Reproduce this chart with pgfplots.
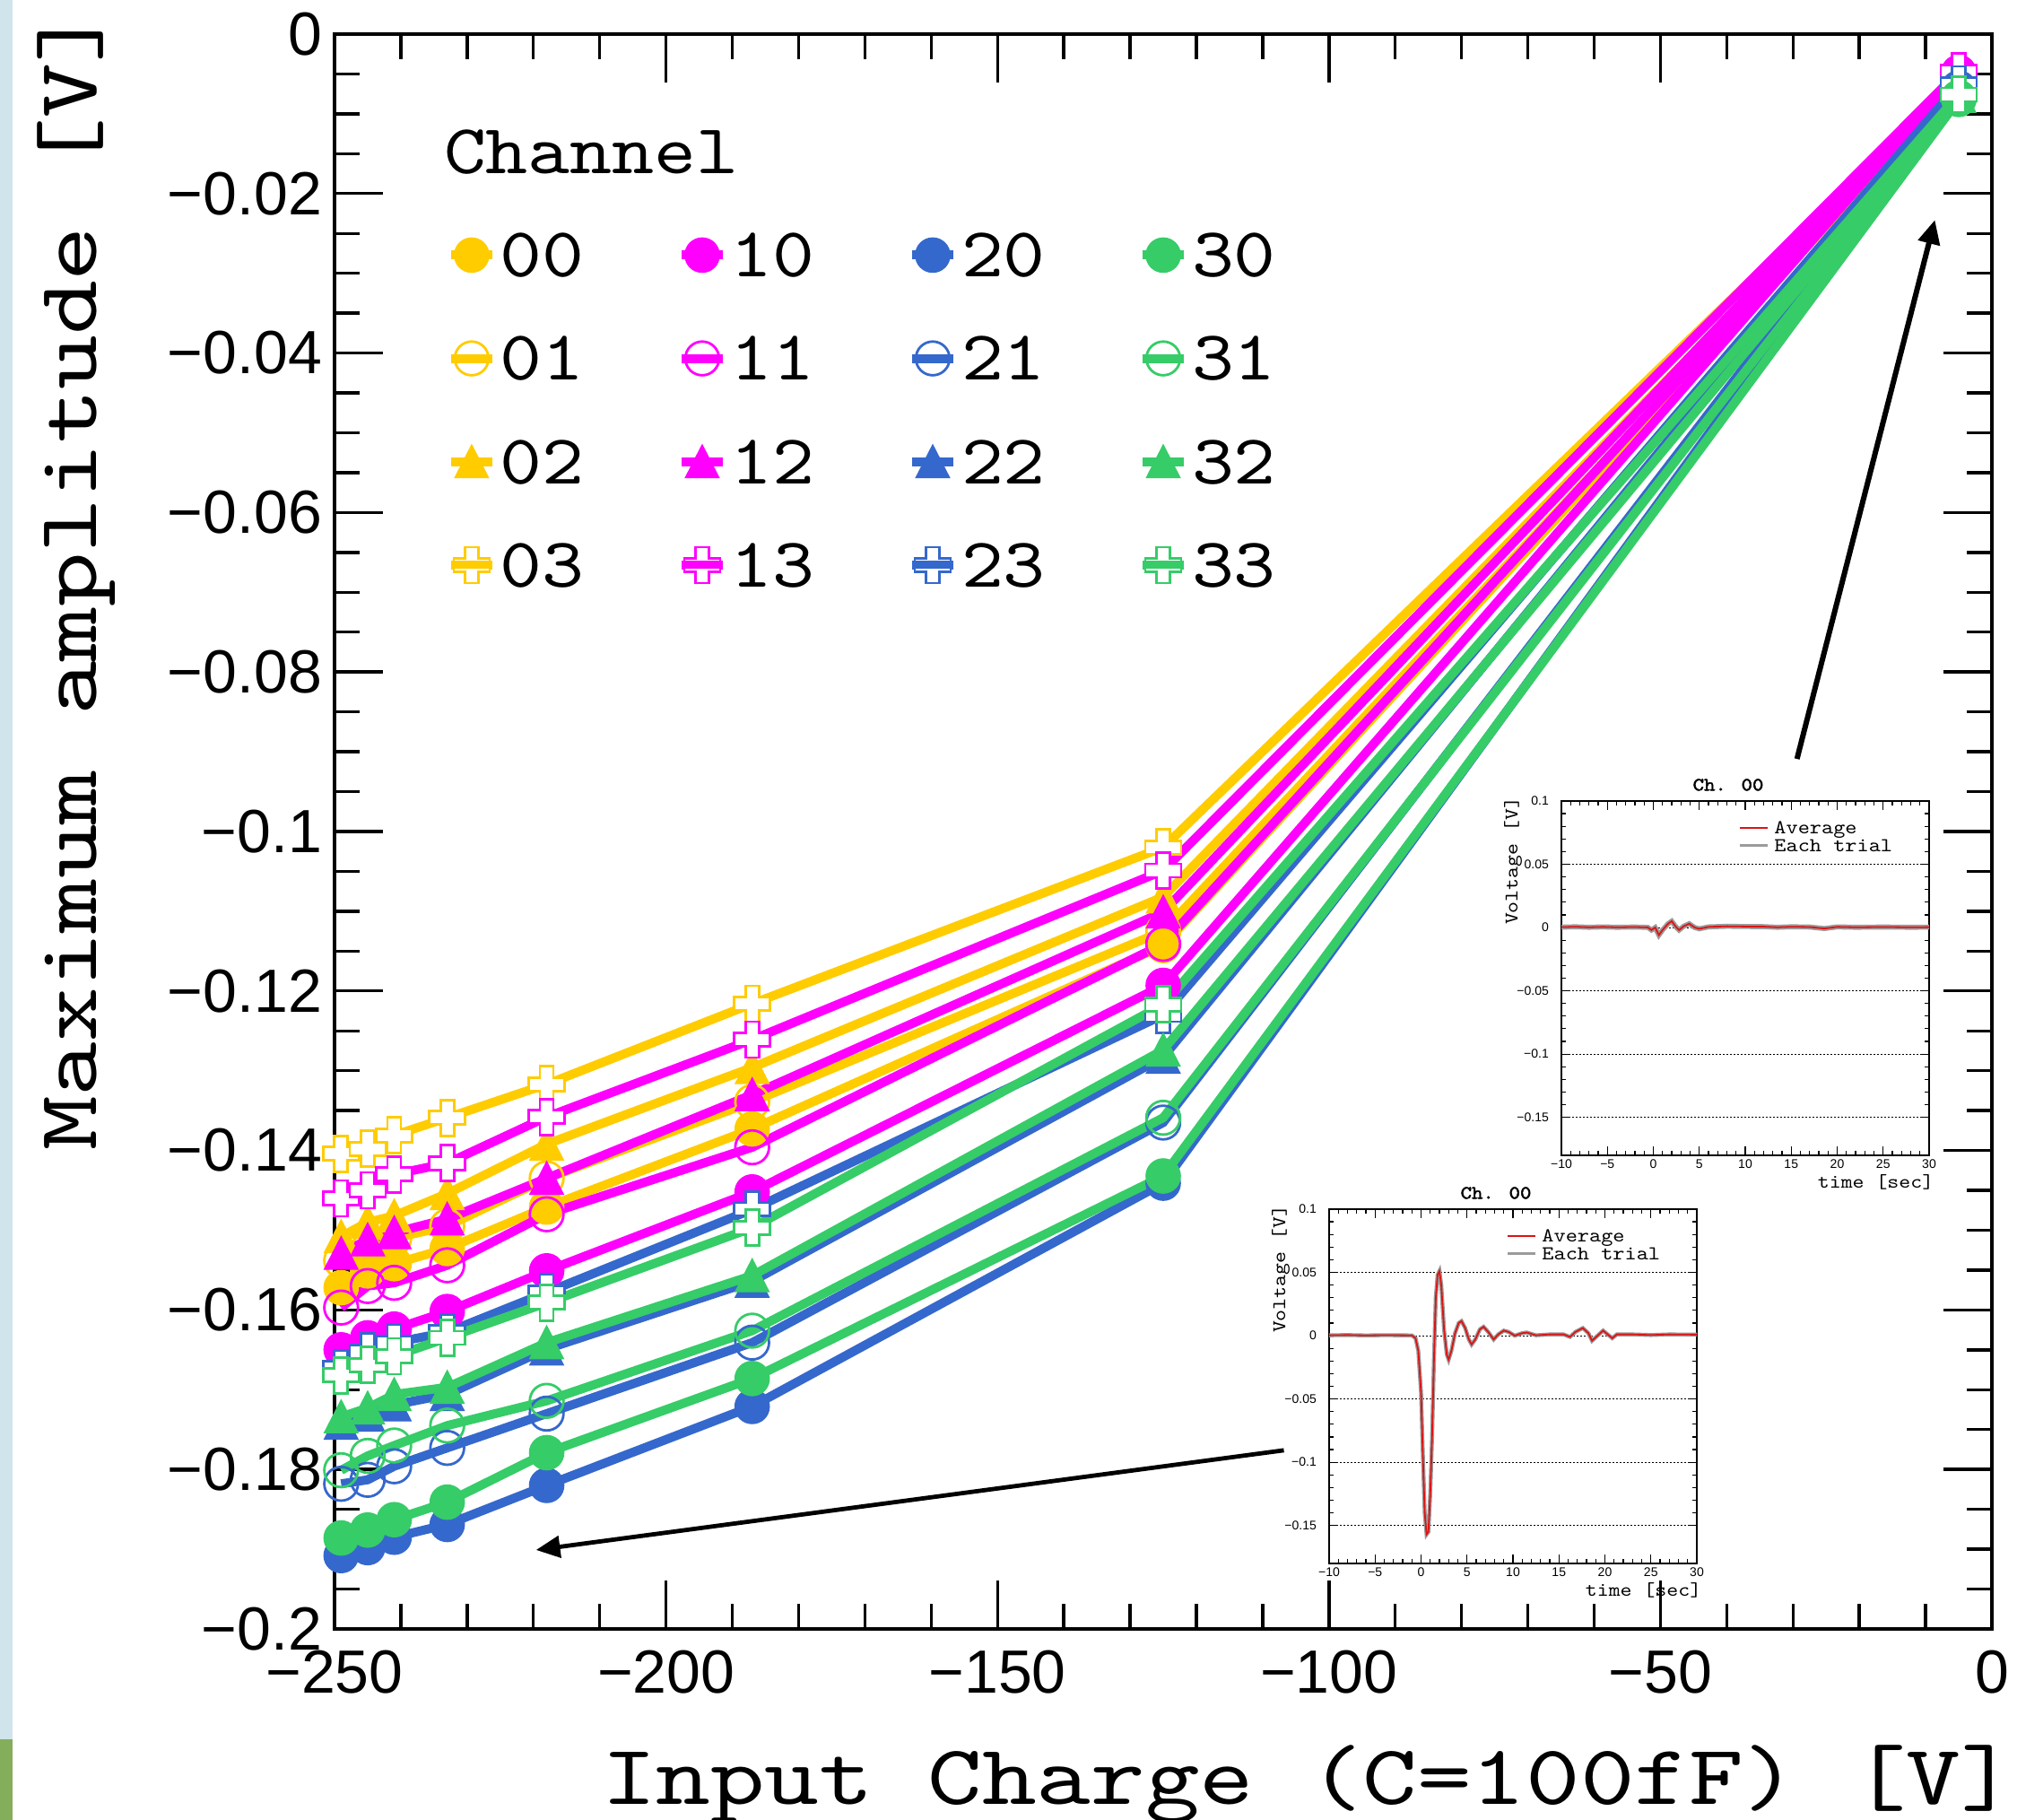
\documentclass[border=0pt]{standalone}
\usepackage{fontspec}
\setmainfont{Liberation Sans}
\newfontfamily\monoA{lmmono10-regular.otf}[FakeStretch=1.218]
\newfontfamily\monoB{lmmono10-regular.otf}[FakeStretch=1.14]
\newfontfamily\monoBold{lmmono10-regular.otf}[FakeStretch=1.14,FakeBold=2]
\usepackage{pgfplots}
\pgfplotsset{compat=1.18}
\usepackage{pgfplotstable}
\usetikzlibrary{arrows.meta}

\definecolor{cY}{RGB}{255,204,0}
\definecolor{cM}{RGB}{255,0,255}
\definecolor{cB}{RGB}{53,104,204}
\definecolor{cG}{RGB}{54,204,104}
\definecolor{stripblue}{RGB}{207,228,235}
\definecolor{stripgreen}{RGB}{132,174,90}
\definecolor{wavered}{RGB}{220,20,20}
\definecolor{wavegray}{RGB}{155,155,155}

\pgfdeclareplotmark{rtri}{%
 \pgfpathmoveto{\pgfqpoint{0pt}{\pgfplotmarksize}}%
 \pgfpathlineto{\pgfqpoint{-\pgfplotmarksize}{-0.95\pgfplotmarksize}}%
 \pgfpathlineto{\pgfqpoint{\pgfplotmarksize}{-0.95\pgfplotmarksize}}%
 \pgfpathclose\pgfusepathqfillstroke}
\pgfdeclareplotmark{ocross}{%
 \pgfpathmoveto{\pgfqpoint{-0.375\pgfplotmarksize}{\pgfplotmarksize}}%
 \pgfpathlineto{\pgfqpoint{0.375\pgfplotmarksize}{\pgfplotmarksize}}%
 \pgfpathlineto{\pgfqpoint{0.375\pgfplotmarksize}{0.375\pgfplotmarksize}}%
 \pgfpathlineto{\pgfqpoint{\pgfplotmarksize}{0.375\pgfplotmarksize}}%
 \pgfpathlineto{\pgfqpoint{\pgfplotmarksize}{-0.375\pgfplotmarksize}}%
 \pgfpathlineto{\pgfqpoint{0.375\pgfplotmarksize}{-0.375\pgfplotmarksize}}%
 \pgfpathlineto{\pgfqpoint{0.375\pgfplotmarksize}{-\pgfplotmarksize}}%
 \pgfpathlineto{\pgfqpoint{-0.375\pgfplotmarksize}{-\pgfplotmarksize}}%
 \pgfpathlineto{\pgfqpoint{-0.375\pgfplotmarksize}{-0.375\pgfplotmarksize}}%
 \pgfpathlineto{\pgfqpoint{-\pgfplotmarksize}{-0.375\pgfplotmarksize}}%
 \pgfpathlineto{\pgfqpoint{-\pgfplotmarksize}{0.375\pgfplotmarksize}}%
 \pgfpathlineto{\pgfqpoint{-0.375\pgfplotmarksize}{0.375\pgfplotmarksize}}%
 \pgfpathclose\pgfusepathqfillstroke}

\pgfplotsset{
 fc/.style={line width=2.5pt, color=#1, mark=*, mark size=4.7pt, mark options={solid, line width=0.5pt, fill=#1}},
 oc/.style={line width=2.5pt, color=#1, mark=o, mark size=4.7pt, mark options={solid, line width=0.7pt}},
 tr/.style={line width=2.5pt, color=#1, mark=rtri, mark size=4.7pt, mark options={solid, line width=0.3pt, fill=#1}},
 cr/.style={line width=2.5pt, color=#1, mark=ocross, mark size=5pt, mark options={solid, line width=0.7pt, fill=white}},
}

\pgfplotstableread{
x c00 c01 c02 c03 c10 c11 c12 c13 c20 c21 c22 c23 c30 c31 c32 c33
-249 -0.1572 -0.1538 -0.1508 -0.1404 -0.1650 -0.1597 -0.1529 -0.1460 -0.1908 -0.1818 -0.1742 -0.1673 -0.1886 -0.1801 -0.1734 -0.1682
-245 -0.1551 -0.1525 -0.1490 -0.1398 -0.1635 -0.1570 -0.1512 -0.1450 -0.1898 -0.1813 -0.1732 -0.1652 -0.1876 -0.1783 -0.1723 -0.1669
-241 -0.1542 -0.1510 -0.1482 -0.1381 -0.1624 -0.1566 -0.1503 -0.1430 -0.1885 -0.1796 -0.1719 -0.1641 -0.1863 -0.1770 -0.1706 -0.1658
-233 -0.1523 -0.1495 -0.1454 -0.1359 -0.1602 -0.1544 -0.1486 -0.1416 -0.1869 -0.1773 -0.1706 -0.1628 -0.1841 -0.1745 -0.1697 -0.1635
-218 -0.1471 -0.1435 -0.1392 -0.1317 -0.1551 -0.1480 -0.1435 -0.1358 -0.1820 -0.1730 -0.1649 -0.1578 -0.1779 -0.1714 -0.1641 -0.1591
-187 -0.1373 -0.1339 -0.1296 -0.1216 -0.1452 -0.1396 -0.1330 -0.1261 -0.1721 -0.1641 -0.1564 -0.1474 -0.1686 -0.1626 -0.1557 -0.1497
-125 -0.1143 -0.1125 -0.1082 -0.1020 -0.1193 -0.1141 -0.1101 -0.1049 -0.1441 -0.1365 -0.1283 -0.1230 -0.1432 -0.1359 -0.1274 -0.1217
-5   -0.0060 -0.0062 -0.0058 -0.0057 -0.0048 -0.0050 -0.0049 -0.0047 -0.0070 -0.0068 -0.0065 -0.0063 -0.0082 -0.0080 -0.0078 -0.0076
}\data

% waveform of the small signal (upper inset)
\pgfplotstableread{
t v
-10 0.0003
-8.5 0.0006
-7 0.0002
-5.5 0.0005
-4 0.0002
-2 0.0004
-0.6 0.0001
-0.2 -0.002
0.2 0.0
0.6 -0.006
1.0 -0.002
1.6 0.003
2.0 0.005
2.4 0.001
2.8 -0.002
3.3 0.001
3.9 0.003
4.5 0.0
5.0 -0.001
6 0.0005
8 0.001
10 0.0008
12 0.0007
13.5 0.0002
15 0.0006
17 0.0004
18.6 -0.0008
20 0.0005
22 0.0002
25 0.0004
28 0.0002
30 0.0003
}\waveA

% waveform of the large signal (lower inset)
\pgfplotstableread{
t v
-10 0.0003
-8 0.0005
-6 0.0002
-4 0.0004
-2 0.0003
-1 0.0002
-0.6 -0.002
-0.3 -0.012
0 -0.045
0.2 -0.095
0.4 -0.14
0.6 -0.157
0.8 -0.155
1.0 -0.125
1.2 -0.08
1.4 -0.02
1.6 0.03
1.8 0.048
2.0 0.051
2.2 0.04
2.5 0.005
2.8 -0.015
3.0 -0.019
3.3 -0.012
3.7 0.002
4.1 0.010
4.4 0.0115
4.8 0.006
5.2 -0.003
5.5 -0.007
5.9 -0.003
6.4 0.005
6.8 0.007
7.3 0.003
7.9 -0.003
8.4 0.001
9.0 0.004
9.5 0.003
10.2 0.0
11.0 0.002
11.5 0.0025
12.5 0.0003
14 0.001
15.5 0.001
16.2 -0.001
16.8 0.003
17.6 0.006
18.2 0.002
18.6 -0.004
19.2 0.0
19.8 0.004
20.3 0.001
20.8 -0.002
21.3 0.001
23 0.001
25 0.0005
27 0.001
30 0.0008
}\waveB

\pgfplotsset{
 inset/.style={
  scale only axis, width=102.5pt, height=98.75pt, anchor=south west,
  xmin=-10, xmax=30, ymin=-0.18, ymax=0.1,
  axis background/.style={fill=white},
  axis line style={line width=0.4pt},
  tick style={line width=0.3pt, black},
  tick align=inside, major tick length=2.5pt, minor tick length=1.25pt,
  xtick={-10,-5,0,5,10,15,20,25,30},
  xticklabels={−10,−5,0,5,10,15,20,25,30},
  minor x tick num=4,
  ytick={-0.15,-0.1,-0.05,0,0.05,0.1},
  yticklabels={−0.15,−0.1,−0.05,0,0.05,0.1},
  minor y tick num=4,
  tick label style={font=\fontsize{3.5}{3.5}\selectfont},
  xticklabel style={inner sep=0.9pt},
  ymajorgrids, grid style={black, line width=0.25pt, dash pattern=on 0.4pt off 0.6pt},
  title={Ch. 00},
  every axis title shift=0pt,
  title style={at={(axis description cs:0.4537,1.0456)}, anchor=center, inner sep=0pt, font=\monoBold\fontsize{5.2}{5.2}\selectfont},
  xlabel={time [sec]}, ylabel={Voltage [V]},
  label style={font=\monoB\fontsize{5.4}{5.4}\selectfont, inner sep=0pt},
  xlabel style={at={(axis description cs:1.0146,-0.0937)}, anchor=base east},
  ylabel style={at={(axis description cs:-0.1195,1.0127)}, anchor=base east},
  legend cell align=left,
  legend style={at={(0.483,0.942)}, anchor=north west, draw=none, fill=none, inner sep=0pt, outer sep=0pt,
    font=\monoB\fontsize{5.5}{5.5}\selectfont, nodes={inner sep=0pt, text depth=0pt}, row sep=1.5pt,
    /tikz/every odd column/.append style={column sep=1.5pt}},
  legend image code/.code={\draw[##1] (0pt,0pt) -- (7.75pt,0pt);},
 }
}

\begin{document}
\begin{tikzpicture}
\useasboundingbox (0pt,0pt) rectangle (562.25pt,507.25pt);
\fill[stripblue] (0pt,22.5pt) rectangle (3.5pt,507.25pt);
\fill[stripgreen] (0pt,0pt) rectangle (3.5pt,22.5pt);

\begin{axis}[
 at={(93.25pt,53.25pt)}, anchor=south west,
 scale only axis, width=462pt, height=444.5pt,
 xmin=-250, xmax=0, ymin=-0.2, ymax=0,
 clip=false,
 axis line style={line width=0.85pt},
 tick style={line width=0.85pt, black},
 tick align=inside,
 major tick length=13.5pt, minor tick length=6.9pt,
 xtick={-250,-200,-150,-100,-50,0},
 xticklabels={−250,−200,−150,−100,−50,0},
 minor x tick num=4,
 ytick={-0.2,-0.18,-0.16,-0.14,-0.12,-0.1,-0.08,-0.06,-0.04,-0.02,0},
 yticklabels={−0.2,−0.18,−0.16,−0.14,−0.12,−0.1,−0.08,−0.06,−0.04,−0.02,0},
 minor y tick num=3,
 tick label style={font=\fontsize{17}{17}\selectfont},
 xticklabel style={yshift=-2.5pt},
 xlabel={Input Charge (C=100fF) [V]},
 ylabel={Maximum amplitude [V]},
 label style={font=\monoA\fontsize{23.7}{23.7}\selectfont, inner sep=0pt},
 xlabel style={at={(axis description cs:1.0146,-0.1102)}, anchor=base east},
 ylabel style={at={(axis description cs:-0.1437,1.0163)}, anchor=base east},
 legend columns=4, transpose legend,
 legend cell align=left,
 legend style={at={(0.0676,0.8751)}, anchor=north west, draw=none, fill=none,
   inner sep=0pt, outer sep=0pt,
   font=\monoB\fontsize{19.6}{19.6}\selectfont,
   nodes={inner sep=0pt, text depth=0pt}, row sep=16.6pt,
   /tikz/every odd column/.append style={column sep=1pt},
   /tikz/every even column/.append style={column sep=25.8pt}},
 legend image code/.code={%
   \draw[mark repeat=2,mark phase=2,#1] plot coordinates {(-5.75pt,0pt) (0pt,0pt) (5.75pt,0pt)};
   \draw[#1,line width=2.25pt] (-5.75pt,0pt) -- (5.75pt,0pt);},
]
\addplot[fc=cY] table[x=x,y=c00]{\data}; \addlegendentry{00}
\addplot[oc=cY] table[x=x,y=c01]{\data}; \addlegendentry{01}
\addplot[tr=cY] table[x=x,y=c02]{\data}; \addlegendentry{02}
\addplot[cr=cY] table[x=x,y=c03]{\data}; \addlegendentry{03}
\addplot[fc=cM] table[x=x,y=c10]{\data}; \addlegendentry{10}
\addplot[oc=cM] table[x=x,y=c11]{\data}; \addlegendentry{11}
\addplot[tr=cM] table[x=x,y=c12]{\data}; \addlegendentry{12}
\addplot[cr=cM] table[x=x,y=c13]{\data}; \addlegendentry{13}
\addplot[fc=cB] table[x=x,y=c20]{\data}; \addlegendentry{20}
\addplot[oc=cB] table[x=x,y=c21]{\data}; \addlegendentry{21}
\addplot[tr=cB] table[x=x,y=c22]{\data}; \addlegendentry{22}
\addplot[cr=cB] table[x=x,y=c23]{\data}; \addlegendentry{23}
\addplot[fc=cG] table[x=x,y=c30]{\data}; \addlegendentry{30}
\addplot[oc=cG] table[x=x,y=c31]{\data}; \addlegendentry{31}
\addplot[tr=cG] table[x=x,y=c32]{\data}; \addlegendentry{32}
\addplot[cr=cG] table[x=x,y=c33]{\data}; \addlegendentry{33}
\node[anchor=base west, inner sep=0pt, font=\monoB\fontsize{19.6}{19.6}\selectfont] at (axis cs:-233.6,-0.01745) {Channel};
\draw[line width=1.5pt, -{Triangle[length=6.7pt,width=6pt]}] (axis cs:-29.4,-0.0909) -- (axis cs:-8.6,-0.0233);
\draw[line width=1.2pt, -{Triangle[length=6.7pt,width=6pt]}] (axis cs:-106.8,-0.1776) -- (axis cs:-219.6,-0.1901);
\end{axis}

% upper inset: small signal
\begin{axis}[inset, at={(435.25pt,185.25pt)}]
\addplot[wavegray, line width=1.4pt, forget plot] table[x=t,y=v]{\waveA};
\addplot[wavered, line width=0.45pt] table[x=t,y=v]{\waveA};
\addlegendentry{Average}
\addlegendimage{wavegray, line width=0.6pt}
\addlegendentry{Each trial}
\node[anchor=base west, inner sep=0pt, font=\fontsize{3.5}{3.5}\selectfont] at (axis description cs:1.005,0.01) {×10\textsuperscript{−9}};
\end{axis}

% lower inset: large signal
\begin{axis}[inset, at={(370.5pt,71.5pt)}]
\addplot[wavegray, line width=1.1pt, forget plot] table[x=t,y=v]{\waveB};
\addplot[wavered, line width=0.45pt] table[x=t,y=v]{\waveB};
\addlegendentry{Average}
\addlegendimage{wavegray, line width=0.6pt}
\addlegendentry{Each trial}
\node[anchor=base west, inner sep=0pt, font=\fontsize{3.5}{3.5}\selectfont] at (axis description cs:1.005,0.01) {×10\textsuperscript{−9}};
\end{axis}
\end{tikzpicture}
\end{document}
